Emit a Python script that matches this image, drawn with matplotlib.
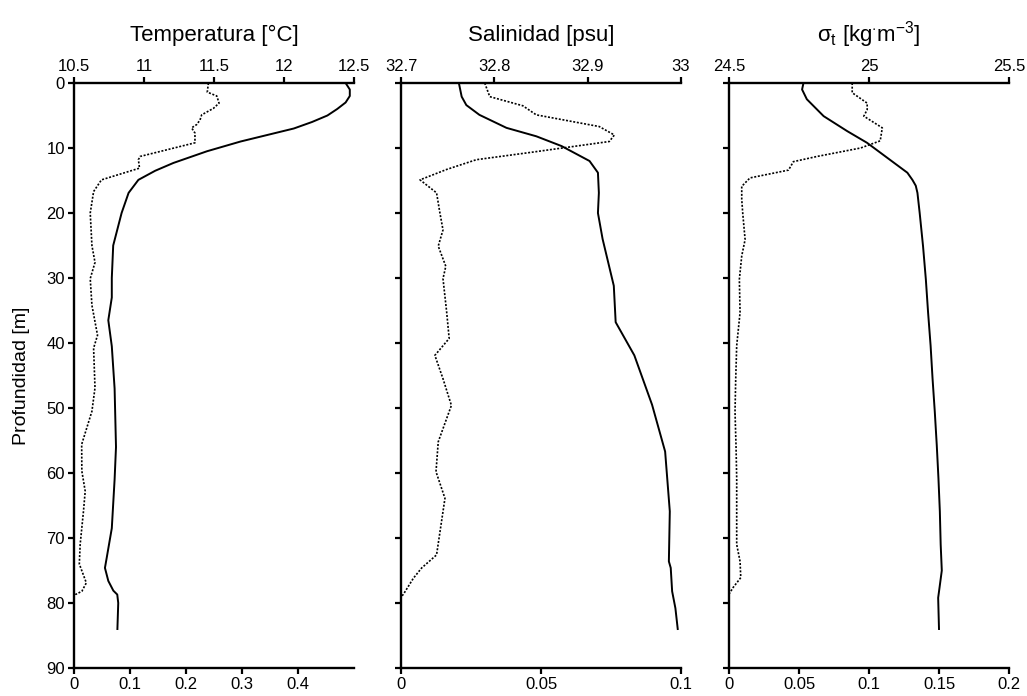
import matplotlib
matplotlib.use("Agg")
import matplotlib.pyplot as plt

plt.rcParams['font.family'] = ['Liberation Sans', 'DejaVu Sans']
plt.rcParams['mathtext.fontset'] = 'custom'
plt.rcParams['mathtext.rm'] = 'Liberation Sans'
plt.rcParams['mathtext.it'] = 'Liberation Sans:italic'

# ---------------- data ----------------
temp_depth = [0, 1, 2, 3, 4, 5, 6, 7, 8, 9, 10.5, 12.3, 13.5, 14.9, 16.9, 20, 25, 30,
              33, 36.5, 40.5, 47, 56, 61, 68.5, 73, 74.6, 76.6, 78.1, 78.7, 80, 84]
temp_mean = [12.44, 12.47, 12.47, 12.44, 12.38, 12.31, 12.20, 12.07, 11.88, 11.69, 11.45,
             11.21, 11.08, 10.96, 10.89, 10.84, 10.78, 10.77, 10.77, 10.745, 10.77, 10.79,
             10.80, 10.79, 10.77, 10.734, 10.721, 10.745, 10.781, 10.809, 10.816, 10.81]

temp_sd_depth = [0, 1.4, 2, 3.1, 3.9, 4.9, 5.7, 6.4, 6.9, 7.7, 9.2, 11.3, 11.8, 13.1, 14.9,
                 16.7, 20, 25, 27.6, 30.1, 34.2, 38.8, 40.8, 46.9, 50.5, 55.6, 59.7, 62.8,
                 65.8, 71, 74, 76.9, 78.2, 78.7, 79]
temp_sd = [0.240, 0.238, 0.255, 0.259, 0.249, 0.228, 0.225, 0.219, 0.210, 0.216, 0.216,
           0.118, 0.115, 0.117, 0.049, 0.035, 0.029, 0.032, 0.0375, 0.029, 0.032, 0.042,
           0.035, 0.0375, 0.032, 0.0137, 0.014, 0.020, 0.017, 0.011, 0.0095, 0.022, 0.014,
           0.0025, 0.0]

sal_depth = [0, 2.1, 3.4, 4.9, 6.9, 8.2, 9.7, 12.0, 13.8, 16.9, 20, 24, 31.2, 36.8, 41.9,
             49.5, 56.7, 65.9, 73.6, 74.6, 78.2, 80.8, 84]
sal_mean = [32.762, 32.765, 32.770, 32.784, 32.813, 32.845, 32.872, 32.902, 32.911, 32.912,
            32.911, 32.916, 32.928, 32.930, 32.950, 32.969, 32.983, 32.988, 32.987, 32.989,
            32.9905, 32.994, 32.9965]

sal_sd_depth = [0, 2.1, 3.5, 4.9, 6.7, 8.0, 9.0, 10.7, 11.8, 13.3, 14.9, 16.9, 20, 22.6,
                25.1, 28.2, 30.1, 35.2, 39.3, 41.9, 45.5, 49.6, 55.2, 59.8, 63.9, 72.6,
                74.6, 76.2, 78.7, 79]
sal_sd = [0.0299, 0.0317, 0.0435, 0.0483, 0.0708, 0.0762, 0.0744, 0.0459, 0.0269, 0.0163,
          0.0068, 0.0127, 0.0139, 0.0150, 0.0133, 0.0160, 0.0150, 0.0163, 0.0172, 0.0121,
          0.0150, 0.0180, 0.0133, 0.0125, 0.0157, 0.0127, 0.0074, 0.0044, 0.0008, 0.0]

sig_depth = [0, 1, 2.5, 5.1, 7.4, 9.2, 11.5, 13.8, 14.9, 15.8, 16.9, 20, 25.1, 30.2, 35.3,
             40.4, 45.5, 50.6, 55.7, 60.8, 65.9, 71, 75, 77.6, 79.2, 84]
sig_mean = [24.766, 24.761, 24.778, 24.838, 24.922, 24.993, 25.065, 25.137, 25.155, 25.167,
            25.173, 25.181, 25.193, 25.203, 25.211, 25.220, 25.227, 25.235, 25.242, 25.248,
            25.253, 25.256, 25.260, 25.252, 25.247, 25.250]

sig_sd_depth = [0, 1.5, 3.1, 4.1, 5.1, 6.9, 8.9, 10.0, 11.3, 12.1, 13.4, 14.6, 15.9, 17.9,
                20, 24.1, 26.6, 30.2, 35.3, 40.4, 45.5, 50.6, 55.7, 60.8, 71, 73.6, 76.1,
                77.6, 78.4, 78.6]
sig_sd = [0.088, 0.088, 0.0987, 0.0987, 0.0963, 0.1095, 0.108, 0.094, 0.0629, 0.046, 0.0425,
          0.015, 0.0091, 0.0091, 0.0098, 0.0115, 0.0091, 0.0074, 0.0079, 0.0055, 0.0048,
          0.0043, 0.0050, 0.0055, 0.0055, 0.0079, 0.0084, 0.0030, 0.0007, 0.0]

titles = ['Temperatura [°C]', 'Salinidad [psu]', 'σ$_{\\rm t}$ [kg$^{\\cdot}$m$^{-3}$]']
top_lims = [(10.5, 12.5), (32.7, 33.0), (24.5, 25.5)]
top_ticks = [[10.5, 11, 11.5, 12, 12.5], [32.7, 32.8, 32.9, 33.0], [24.5, 25, 25.5]]
top_labels = [['10.5', '11', '11.5', '12', '12.5'], ['32.7', '32.8', '32.9', '33'],
              ['24.5', '25', '25.5']]
bot_lims = [(0, 0.5), (0, 0.1), (0, 0.2)]
bot_ticks = [[0, 0.1, 0.2, 0.3, 0.4], [0, 0.05, 0.1], [0, 0.05, 0.1, 0.15, 0.2]]
bot_labels = [['0', '0.1', '0.2', '0.3', '0.4'], ['0', '0.05', '0.1'],
              ['0', '0.05', '0.1', '0.15', '0.2']]
depth_ticks = list(range(0, 100, 10))

means = [(temp_depth, temp_mean), (sal_depth, sal_mean), (sig_depth, sig_mean)]
sds = [(temp_sd_depth, temp_sd), (sal_sd_depth, sal_sd), (sig_sd_depth, sig_sd)]

# ---------------- figure ----------------
W, H = 1027, 696
fig = plt.figure(figsize=(W / 100, H / 100), dpi=100)
lefts_px = [74, 401, 729]
width_px = 280
top_px, bot_px = 83, 668
TICK_FS = 12

for i in range(3):
    ax = fig.add_axes([lefts_px[i] / W, 1 - bot_px / H, width_px / W, (bot_px - top_px) / H])
    axt = ax.twiny()

    ax.plot(sds[i][1], sds[i][0], color='black', lw=1.2, linestyle=(0, (1.2, 1.0)))
    axt.plot(means[i][1], means[i][0], color='black', lw=1.4)

    ax.set_ylim(90, 0)
    ax.set_xlim(*bot_lims[i])
    axt.set_xlim(*top_lims[i])
    ax.set_yticks(depth_ticks)
    if i == 0:
        ax.set_yticklabels([str(d) for d in depth_ticks], fontsize=TICK_FS)
        ax.set_ylabel('Profundidad [m]', fontsize=14)
        ax.yaxis.set_label_coords((30 - 74) / width_px, 0.5)
    else:
        ax.set_yticklabels([])

    ax.set_xticks(bot_ticks[i])
    ax.set_xticklabels(bot_labels[i], fontsize=TICK_FS)
    axt.set_xticks(top_ticks[i])
    axt.set_xticklabels(top_labels[i], fontsize=TICK_FS)

    for a in (ax, axt):
        a.spines['right'].set_visible(False)
        for s in a.spines.values():
            s.set_linewidth(1.7)
        a.tick_params(width=1.6, length=4, pad=2.5, direction='out')
    axt.spines['bottom'].set_visible(False)
    axt.spines['left'].set_visible(False)
    ax.spines['top'].set_visible(False)

    fig.text((lefts_px[i] + width_px / 2) / W, 1 - 35 / H, titles[i],
             ha='center', va='center', fontsize=16)

fig.savefig('out.png', dpi=100)
